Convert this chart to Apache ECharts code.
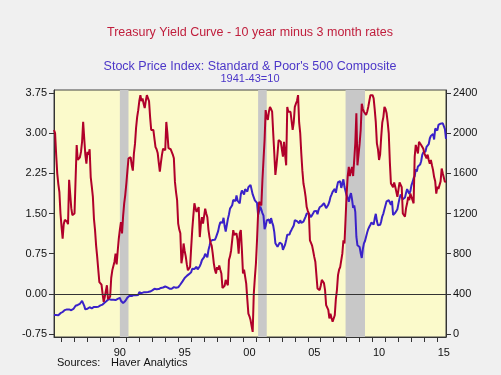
<!DOCTYPE html>
<html><head><meta charset="utf-8">
<script src="https://cdn.jsdelivr.net/npm/echarts@6/dist/echarts.min.js"></script>
<style>html,body{margin:0;padding:0;background:#f0f0f0}#c{width:501px;height:375px}</style>
</head><body><div id="c"></div>
<script>
// first data month (monthly observations)
const startYear = 1985, startMonth = 6;

// 10-year minus 3-month Treasury spread, % (left axis)
const spread = [
  3.06, 3.00, 2.60, 2.25, 2.05, 1.90, 1.50,                        // 1985 Jun-Dec
  1.25, 1.03, 1.30, 1.38, 1.41, 1.35, 1.30, 2.13, 2.10, 1.60, 1.47, 1.50, // 1986
  1.50, 1.50, 2.78, 2.50, 2.50, 2.55, 2.65, 2.84, 3.21, 2.90, 2.60, 2.43, // 1987
  2.65, 2.60, 2.70, 2.18, 2.00, 1.81, 1.40, 1.19, 0.90, 0.69, 0.45, 0.22, // 1988
  0.20, 0.17, 0.00, -0.15, -0.06, 0.05, 0.16, -0.10, -0.08, -0.05, 0.30, 0.44, // 1989
  0.45, 0.60, 0.75, 0.55, 0.80, 1.03, 1.20, 1.34, 1.13, 1.45, 1.69, 1.85, // 1990
  2.06, 2.30, 2.53, 2.55, 2.55, 2.40, 2.30, 2.62, 2.80, 3.10, 3.30, 3.43, // 1991
  3.60, 3.71, 3.60, 3.65, 3.55, 3.47, 3.60, 3.71, 3.68, 3.60, 3.30, 3.06, // 1992
  3.05, 3.06, 2.90, 2.74, 2.70, 2.63, 2.45, 2.28, 2.45, 2.60, 2.71, 2.68, // 1993
  2.68, 3.21, 3.00, 2.72, 2.72, 2.70, 2.69, 2.60, 2.53, 2.09, 1.90, 1.75, // 1994
  1.31, 1.20, 1.13, 0.57, 0.70, 0.94, 0.80, 0.70, 0.55, 0.44, 0.45, 0.50, // 1995
  0.85, 1.19, 1.45, 1.69, 1.60, 1.53, 1.55, 1.62, 1.06, 1.30, 1.43, 1.31, // 1996
  1.45, 1.59, 1.50, 1.43, 1.20, 1.06, 0.95, 0.90, 0.75, 0.57, 0.45, 0.38, // 1997
  0.50, 0.45, 0.53, 0.45, 0.38, 0.11, 0.10, 0.15, 0.26, 0.20, 0.16, 0.63, // 1998
  0.70, 0.81, 1.00, 1.19, 1.10, 1.10, 1.13, 1.00, 0.75, 1.13, 1.19, 0.82, // 1999
  0.38, 0.45, 0.47, 0.19, -0.10, -0.37, -0.42, -0.49, -0.60, -0.71, 0.00, 0.30, // 2000
  0.57, 1.00, 1.50, 1.72, 1.70, 1.65, 2.12, 2.50, 2.87, 3.43, 3.30, 3.25, // 2001
  3.40, 3.49, 3.45, 3.40, 3.00, 2.62, 2.22, 2.40, 2.62, 2.87, 2.85, 2.84, // 2002
  2.70, 2.56, 2.84, 2.60, 2.40, 3.49, 3.40, 3.37, 3.40, 3.40, 3.06, 3.20, // 2003
  3.49, 3.55, 3.60, 3.71, 3.20, 3.00, 2.62, 2.30, 2.06, 1.95, 1.81, 1.62, // 2004
  1.55, 1.50, 1.00, 0.95, 0.90, 0.80, 0.69, 0.60, 0.57, 0.10, 0.07, 0.07, // 2005
  0.15, 0.26, 0.26, 0.20, 0.07, -0.21, -0.24, -0.30, -0.46, -0.37, -0.45, -0.52, // 2006
  -0.50, -0.40, -0.10, 0.07, 0.35, 0.45, 0.50, 0.50, 0.75, 1.00, 0.94, 1.40, // 2007
  1.87, 2.20, 2.37, 2.20, 2.30, 2.37, 2.20, 2.50, 2.81, 3.37, 2.40, 2.60, // 2008
  2.80, 3.06, 3.55, 3.45, 3.40, 3.40, 3.34, 3.40, 3.49, 3.60, 3.71, 3.68, // 2009
  3.71, 3.65, 3.44, 3.20, 2.81, 2.70, 2.50, 2.60, 2.93, 3.20, 3.30, 3.49, // 2010
  3.45, 3.37, 3.20, 2.99, 2.46, 2.06, 2.06, 1.99, 2.08, 2.00, 1.99, 1.81, // 2011
  1.95, 2.08, 2.05, 1.99, 1.50, 1.50, 1.44, 1.60, 1.69, 1.81, 1.75, 1.87, // 2012
  1.87, 1.75, 1.69, 2.56, 2.78, 2.70, 2.62, 2.84, 2.84, 2.78, 2.75, 2.71, // 2013
  2.62, 2.60, 2.53, 2.60, 2.50, 2.43, 2.50, 2.40, 2.31, 2.18, 2.10, 1.87, // 2014
  2.00, 1.96, 1.96, 2.10, 2.34, 2.25, 2.22, 2.09, 2.10                    // 2015 Jan-Sep
];

// S&P 500 composite, monthly average (right axis)
const spx = [
  190, 192, 188, 184, 186, 198, 207,                                     // 1985 Jun-Dec
  208, 219, 232, 238, 239, 245, 240, 245, 238, 237, 245, 249,            // 1986
  265, 281, 293, 289, 289, 301, 310, 329, 319, 280, 245, 241,            // 1987
  251, 258, 266, 263, 256, 271, 269, 264, 268, 277, 271, 277,            // 1988
  285, 294, 293, 302, 314, 324, 332, 347, 348, 347, 340, 349,            // 1989
  340, 330, 338, 338, 350, 360, 360, 331, 315, 307, 315, 329,            // 1990
  325, 362, 372, 380, 378, 378, 380, 389, 387, 387, 386, 389,            // 1991
  416, 413, 407, 407, 415, 408, 415, 418, 418, 413, 423, 436,            // 1992
  435, 442, 450, 443, 445, 448, 447, 454, 459, 464, 463, 466,            // 1993
  473, 472, 464, 447, 451, 455, 451, 464, 467, 464, 461, 455,            // 1994
  465, 482, 493, 508, 524, 539, 557, 559, 579, 583, 596, 615,            // 1995
  614, 650, 647, 647, 661, 669, 644, 663, 675, 701, 736, 743,            // 1996
  766, 798, 792, 764, 833, 876, 925, 928, 937, 951, 939, 962,            // 1997
  963, 1024, 1077, 1112, 1108, 1108, 1157, 1075, 1021, 1032, 1144, 1190, // 1998
  1249, 1247, 1282, 1335, 1332, 1323, 1381, 1327, 1318, 1300, 1391, 1429, // 1999
  1426, 1389, 1442, 1461, 1418, 1462, 1473, 1485, 1468, 1390, 1375, 1331, // 2000
  1336, 1306, 1186, 1190, 1270, 1239, 1204, 1179, 1045, 1077, 1130, 1145, // 2001
  1140, 1101, 1154, 1112, 1079, 1014, 904, 913, 868, 855, 910, 899,      // 2002
  896, 838, 847, 890, 936, 988, 993, 990, 1019, 1039, 1050, 1081,        // 2003
  1133, 1143, 1124, 1133, 1103, 1133, 1106, 1089, 1118, 1118, 1169, 1199, // 2004
  1181, 1200, 1195, 1164, 1178, 1202, 1222, 1224, 1226, 1192, 1237, 1262, // 2005
  1279, 1277, 1294, 1302, 1290, 1253, 1260, 1287, 1318, 1363, 1389, 1416, // 2006
  1424, 1445, 1407, 1464, 1511, 1514, 1521, 1455, 1497, 1540, 1463, 1479, // 2007
  1379, 1355, 1317, 1370, 1403, 1341, 1257, 1281, 1217, 969, 883, 878,   // 2008
  866, 805, 757, 848, 902, 926, 936, 1010, 1045, 1068, 1088, 1110,       // 2009
  1124, 1089, 1152, 1197, 1125, 1083, 1080, 1087, 1122, 1172, 1199, 1242, // 2010
  1283, 1321, 1304, 1332, 1338, 1287, 1325, 1185, 1174, 1207, 1226, 1243, // 2011
  1301, 1352, 1389, 1386, 1341, 1323, 1360, 1403, 1443, 1438, 1395, 1422, // 2012
  1480, 1512, 1551, 1571, 1640, 1619, 1669, 1670, 1687, 1720, 1784, 1808, // 2013
  1822, 1817, 1864, 1864, 1890, 1947, 1973, 1962, 1993, 1937, 2045, 2054, // 2014
  2028, 2082, 2080, 2095, 2112, 2099, 2094, 2040, 1944                    // 2015 Jan-Sep
];

// NBER recessions (peak month start, trough month start), decimal years
const recessions = [[1990.5, 1991.1667], [2001.1667, 2001.8333], [2007.9167, 2009.4167]];

const leftTicks = [-0.75, 0, 0.75, 1.5, 2.25, 3, 3.75];
const rightTicks = [0, 400, 800, 1200, 1600, 2000, 2400];
const yearTicks = [1986,1987,1988,1989,1990,1991,1992,1993,1994,1995,1996,1997,1998,1999,2000,
                   2001,2002,2003,2004,2005,2006,2007,2008,2009,2010,2011,2012,2013,2014,2015];
const yearLabels = [1990, 1995, 2000, 2005, 2010, 2015];

const dateOf = i => startYear + (startMonth - 1 + i) / 12;
const spreadData = spread.map((v, i) => [dateOf(i), v]);
const spxData = spx.map((v, i) => [dateOf(i), v]);

const FONT = "'Liberation Sans', Arial, sans-serif";
const chart = echarts.init(document.getElementById('c'), null, {renderer: 'canvas'});
chart.setOption({
  animation: false,
  backgroundColor: '#f0f0f0',
  textStyle: {fontFamily: FONT},
  grid: {left: 54, right: 55, top: 90, bottom: 38, show: true,
         backgroundColor: '#FBFACB', borderColor: '#444', borderWidth: 1},
  xAxis: {
    type: 'value', min: 1985.4167, max: 2015.6667, position: 'bottom',
    axisLine: {show: true, onZero: false, lineStyle: {color: '#333'}},
    axisTick: {show: true, inside: false, length: 5, lineStyle: {color: '#333'}, customValues: yearTicks},
    axisLabel: {show: true, margin: 10, fontSize: 11, color: '#111', fontFamily: FONT,
      customValues: yearLabels.map(y => y + 0.5),
      formatter: v => String(Math.floor(v) % 100).padStart(2, '0')},
    splitLine: {show: false}
  },
  yAxis: [{
    type: 'value', min: -0.806, max: 3.806, position: 'left',
    axisLine: {show: true, onZero: false, lineStyle: {color: '#333'}},
    axisTick: {show: true, inside: false, length: 5, lineStyle: {color: '#333'}, customValues: leftTicks},
    axisLabel: {show: true, margin: 7, fontSize: 11, color: '#111', fontFamily: FONT,
      customValues: leftTicks, formatter: v => v.toFixed(2)},
    splitLine: {show: false}
  }, {
    type: 'value', min: -30, max: 2430, position: 'right',
    axisLine: {show: true, onZero: false, lineStyle: {color: '#333'}},
    axisTick: {show: true, inside: false, length: 5, lineStyle: {color: '#333'}, customValues: rightTicks},
    axisLabel: {show: true, margin: 7, fontSize: 11, color: '#111', fontFamily: FONT,
      customValues: rightTicks, formatter: v => String(Math.round(v))},
    splitLine: {show: false}
  }],
  series: [{
    type: 'line', xAxisIndex: 0, yAxisIndex: 0, data: [], z: 1, silent: true,
    markArea: {silent: true, itemStyle: {color: '#C8C8C8'},
      data: recessions.map(r => [{xAxis: r[0]}, {xAxis: r[1]}])},
    markLine: {silent: true, symbol: ['none', 'none'], label: {show: false},
      lineStyle: {color: '#333', width: 1, type: 'solid'}, data: [{yAxis: 0}]}
  }, {
    name: 'S&P 500', type: 'line', yAxisIndex: 1, data: spxData, showSymbol: false,
    lineStyle: {color: '#3A22C8', width: 2}, itemStyle: {color: '#3A22C8'}, z: 3
  }, {
    name: 'Spread', type: 'line', yAxisIndex: 0, data: spreadData, showSymbol: false,
    lineStyle: {color: '#B0002A', width: 2}, itemStyle: {color: '#B0002A'}, z: 4
  }],
  graphic: [
    {type: 'text', x: 250, y: 33, style: {text: 'Treasury Yield Curve - 10 year minus 3 month rates',
      fill: '#C01E3C', font: "12.5px " + FONT, align: 'center', verticalAlign: 'middle'}},
    {type: 'text', x: 250, y: 67, style: {text: "Stock Price Index: Standard & Poor's 500 Composite",
      fill: '#4B36C8', font: "12.5px " + FONT, align: 'center', verticalAlign: 'middle'}},
    {type: 'text', x: 250, y: 79, style: {text: '1941-43=10',
      fill: '#4B36C8', font: "11px " + FONT, align: 'center', verticalAlign: 'middle'}},
    {type: 'text', x: 57, y: 363, style: {text: 'Sources:',
      fill: '#111', font: "11px " + FONT, align: 'left', verticalAlign: 'middle'}},
    {type: 'text', x: 111, y: 363, style: {text: 'Haver Analytics',
      fill: '#111', font: "11px " + FONT, align: 'left', verticalAlign: 'middle'}}
  ]
});
</script></body></html>
